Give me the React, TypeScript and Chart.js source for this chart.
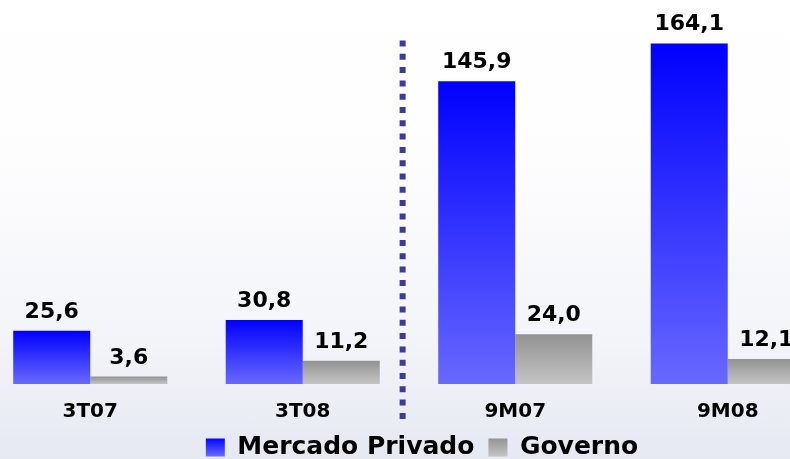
import React, { useEffect, useRef } from 'react';
import { Chart, registerables } from 'chart.js';

Chart.register(...registerables);

const categories = ['3T07', '3T08', '9M07', '9M08'];
const mercadoPrivado = [25.6, 30.8, 145.9, 164.1];
const governo = [3.6, 11.2, 24.0, 12.1];
const seriesNames = ['Mercado Privado', 'Governo'];

const FONT = '"DejaVu Sans", Verdana, sans-serif';
const blueStops = ['#0000ff', '#6868ff'];
const grayStops = ['#929292', '#c4c4c4'];

const fmt = (v: number) => v.toFixed(1).replace('.', ',');

function barGradient(top: string, bottom: string) {
  return (ctx: any) => {
    const chart = ctx.chart;
    const c = chart.ctx as CanvasRenderingContext2D;
    const area = chart.chartArea;
    if (!area || ctx.raw === undefined) return top;
    const y0 = chart.scales.y.getPixelForValue(ctx.raw);
    const g = c.createLinearGradient(0, y0, 0, area.bottom);
    g.addColorStop(0, top);
    g.addColorStop(1, bottom);
    return g;
  };
}

const valueLabels = {
  id: 'valueLabels',
  afterDatasetsDraw(chart: any) {
    const c = chart.ctx as CanvasRenderingContext2D;
    c.save();
    c.font = `bold 22px ${FONT}`;
    c.fillStyle = '#000';
    c.textAlign = 'center';
    c.textBaseline = 'alphabetic';
    chart.data.datasets.forEach((ds: any, i: number) => {
      const meta = chart.getDatasetMeta(i);
      meta.data.forEach((el: any, j: number) => {
        c.fillText(fmt(ds.data[j]), el.x, el.y - 13);
      });
    });
    c.restore();
  },
};

const divider = {
  id: 'divider',
  afterDraw(chart: any) {
    const c = chart.ctx as CanvasRenderingContext2D;
    const x = chart.scales.x.getPixelForValue(1.47);
    const y0 = chart.scales.y.getPixelForValue(165.5);
    const y1 = chart.scales.y.getPixelForValue(-18);
    c.save();
    c.strokeStyle = '#3b3b9e';
    c.lineWidth = 6;
    c.lineCap = 'butt';
    c.setLineDash([6, 7.3]);
    c.beginPath();
    c.moveTo(x, y0);
    c.lineTo(x, y1);
    c.stroke();
    c.restore();
  },
};

export default function App() {
  const ref = useRef<HTMLCanvasElement>(null);
  useEffect(() => {
    document.body.style.margin = '0';
    Chart.defaults.font.family = FONT;
    const chart = new Chart(ref.current!, {
      type: 'bar',
      data: {
        labels: categories,
        datasets: [
          {
            label: seriesNames[0],
            data: mercadoPrivado,
            backgroundColor: barGradient(blueStops[0], blueStops[1]),
            borderWidth: 0,
          },
          {
            label: seriesNames[1],
            data: governo,
            backgroundColor: barGradient(grayStops[0], grayStops[1]),
            borderWidth: 0,
          },
        ],
      },
      options: {
        responsive: false,
        animation: false,
        layout: { padding: 0 },
        datasets: {
          bar: { barPercentage: 1, categoryPercentage: 0.725 },
        },
        scales: {
          x: {
            grid: { display: false, drawTicks: false },
            border: { display: false },
            ticks: {
              color: '#000',
              font: { size: 20, weight: 'bold', family: FONT },
              padding: 16,
            },
            afterFit: (s: any) => {
              s.height = 37;
            },
          },
          y: {
            position: 'right',
            min: 0,
            max: 185,
            grid: { display: false, drawTicks: false },
            border: { display: false },
            ticks: { display: false },
            afterFit: (s: any) => {
              s.width = 26;
            },
          },
        },
        plugins: {
          legend: {
            position: 'bottom',
            labels: {
              color: '#000',
              font: { size: 25, weight: 'bold', family: FONT },
              boxWidth: 19,
              boxHeight: 18,
              padding: 14,
              generateLabels: (ch: any) => {
                const items = Chart.defaults.plugins.legend.labels.generateLabels(ch);
                const c = ch.ctx as CanvasRenderingContext2D;
                const stops = [blueStops, grayStops];
                return items.map((it: any, i: number) => {
                  const g = c.createLinearGradient(0, ch.height - 32, 0, ch.height - 14);
                  g.addColorStop(0, stops[i][0]);
                  g.addColorStop(1, stops[i][1]);
                  return { ...it, fillStyle: g, lineWidth: 0, strokeStyle: 'rgba(0,0,0,0)' };
                });
              },
            },
          },
          tooltip: { enabled: false },
        },
      },
      plugins: [valueLabels, divider],
    });
    return () => chart.destroy();
  }, []);
  return (
    <div
      style={{
        position: 'relative',
        width: 790,
        height: 459,
        overflow: 'hidden',
        background:
          'linear-gradient(to bottom, #ffffff 0%, #fdfdfe 35%, #f3f4f9 75%, #e6e8f2 100%)',
      }}
    >
      <canvas
        ref={ref}
        width={876}
        height={470}
        style={{ position: 'absolute', left: -16, top: 0, width: 876, height: 470 }}
      />
    </div>
  );
}
